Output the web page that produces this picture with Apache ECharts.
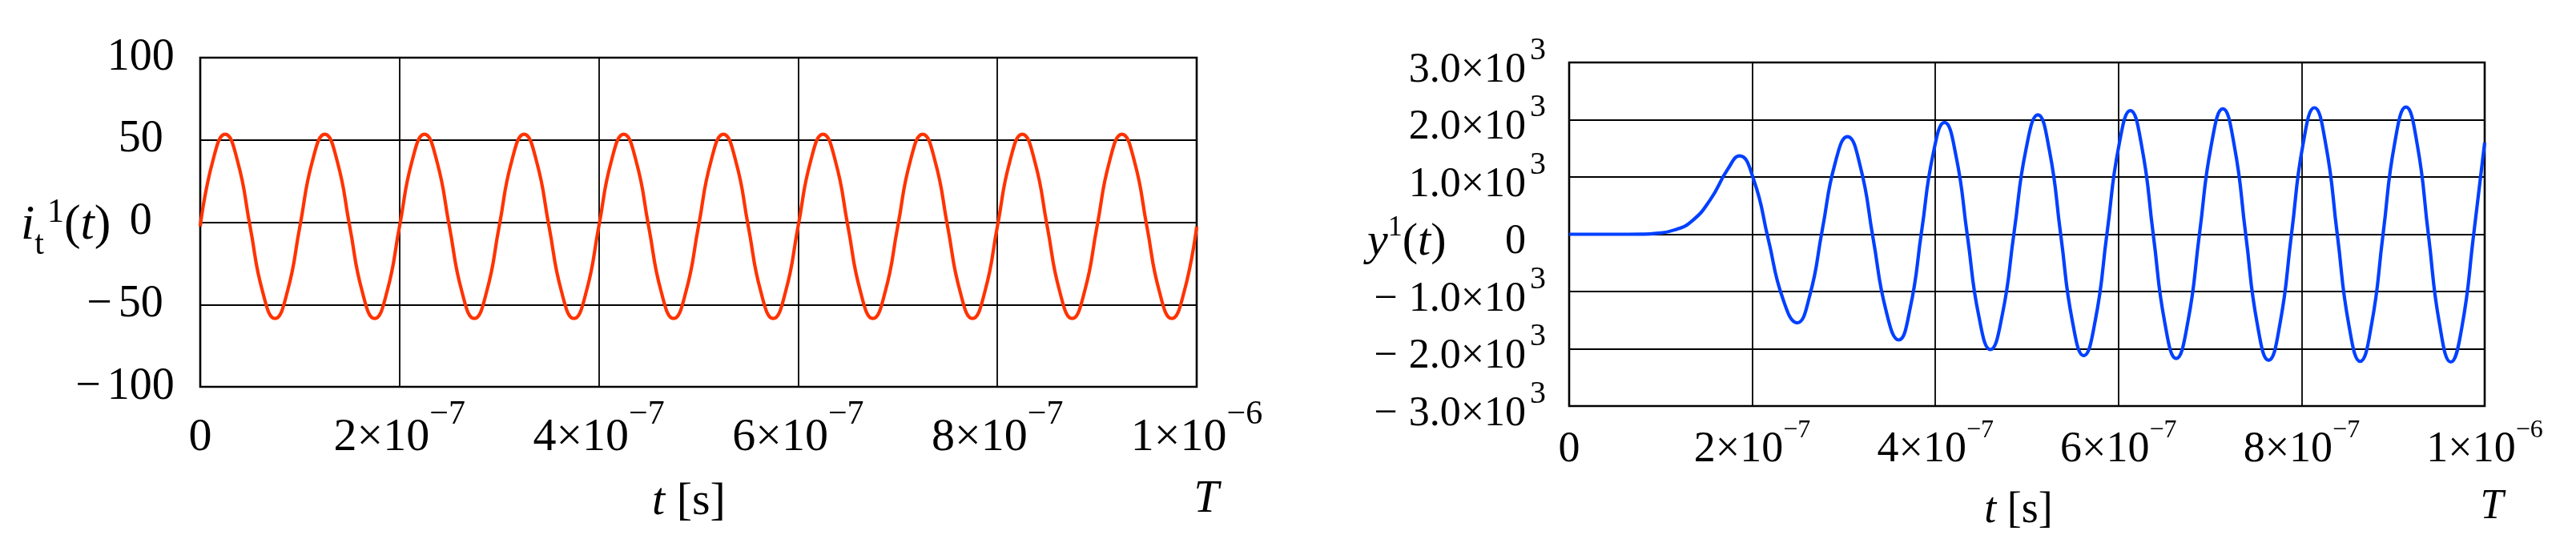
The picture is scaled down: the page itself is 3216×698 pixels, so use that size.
<!DOCTYPE html>
<html>
<head>
<meta charset="utf-8">
<script src="https://cdn.jsdelivr.net/npm/echarts/dist/echarts.min.js"></script>
<style>
html, body { margin: 0; padding: 0; background: #fff; }
#main { width: 3216px; height: 698px; }
</style>
</head>
<body>
<div id="main"></div>
<script>
// tick labels, time in units of 1e-6 s
var xTicks = [0, 0.2, 0.4, 0.6, 0.8, 1.0];
var xMant = ['0', '2×10', '4×10', '6×10', '8×10', '1×10'];
var xExp = ['', '−7', '−7', '−7', '−7', '−6'];

var leftYTicks = [-100, -50, 0, 50, 100];
var rightYTicks = [-3000, -2000, -1000, 0, 1000, 2000, 3000];

// i_t(t), read every 0.0125e-6 s
var leftStep = 0.0125;
var leftI = [
    -2.5, 37, 53.5, 37, -2.5, -42, -58.5, -42,
    -2.5, 37, 53.5, 37, -2.5, -42, -58.5, -42,
    -2.5, 37, 53.5, 37, -2.5, -42, -58.5, -42,
    -2.5, 37, 53.5, 37, -2.5, -42, -58.5, -42,
    -2.5, 37, 53.5, 37, -2.5, -42, -58.5, -42,
    -2.5, 37, 53.5, 37, -2.5, -42, -58.5, -42,
    -2.5, 37, 53.5, 37, -2.5, -42, -58.5, -42,
    -2.5, 37, 53.5, 37, -2.5, -42, -58.5, -42,
    -2.5, 37, 53.5, 37, -2.5, -42, -58.5, -42,
    -2.5, 37, 53.5, 37, -2.5, -42, -58.5, -42,
    -2.5
];

// y(t)
var rightT = [0, 0.05, 0.08, 0.095, 0.115, 0.134, 0.154, 0.173, 0.186,
    0.2018, 0.2175, 0.2333, 0.249,
    0.2628, 0.2765, 0.2903, 0.304,
    0.318, 0.332, 0.346, 0.360,
    0.3725, 0.385, 0.3975, 0.410,
    0.4225, 0.435, 0.4475, 0.460,
    0.473, 0.486, 0.499, 0.512,
    0.5245, 0.537, 0.5495, 0.562,
    0.5748, 0.5875, 0.6003, 0.613,
    0.6255, 0.638, 0.6505, 0.663,
    0.6758, 0.6885, 0.7013, 0.714,
    0.7265, 0.739, 0.7515, 0.764,
    0.7765, 0.789, 0.8015, 0.814,
    0.8265, 0.839, 0.8515, 0.864,
    0.8765, 0.889, 0.9015, 0.914,
    0.9263, 0.9385, 0.9508, 0.963,
    0.975, 0.988, 1.0];
var rightY = [0, 0, 2, 15, 75, 230, 600, 1130, 1368,
    941, -89, -1119, -1546,
    -1070, 80, 1229, 1705,
    1185, -71, -1326, -1846,
    -1289, 54, 1397, 1954,
    1373, -30, -1433, -2014,
    -1414, 36, 1485, 2085,
    1469, -18, -1504, -2120,
    -1493, 20, 1533, 2160,
    1526, -5, -1536, -2170,
    -1531, 10, 1551, 2190,
    1547, -5, -1557, -2200,
    -1554, 5, 1564, 2210,
    1561, -5, -1571, -2220,
    -1569, 1, 1571, 2222,
    1570, -5, -1579, -2231,
    -1631, 0, 1600];

var serif = '"Liberation Serif", "DejaVu Serif", serif';

var leftData = leftI.map(function (v, i) { return [i * leftStep, v]; });
var rightData = rightY.map(function (v, i) { return [rightT[i], v]; });

function xLabel(v) {
    var k = Math.round(v / 0.2);
    if (!xExp[k]) return '{m|' + xMant[k] + '}';
    return '{m|' + xMant[k] + '}{s|' + xExp[k] + '}';
}

function leftYLabel(v) {
    if (v < 0) return '{mi|−}{d|' + (-v) + '}';
    return '{h|−}{d|' + v + '}';
}

// right y labels: mantissa on one axis, the exponent 3 on a twin axis
function rightYMant(v) {
    if (v === 0) return '{z|0}';
    var txt = (Math.abs(v) / 1000).toFixed(1) + '×10';
    if (v < 0) return '{mi|−}{m|' + txt + '}';
    return '{m|' + txt + '}';
}
function rightYExp(v) {
    return v === 0 ? '' : '3';
}

var splitStyle = { show: true, lineStyle: { color: '#000', width: 1.8 } };

var option = {
    backgroundColor: '#fff',
    animation: false,
    grid: [
        { left: 250, top: 72, width: 1244, height: 411, show: true, borderColor: '#000', borderWidth: 2.6 },
        { left: 1959, top: 78, width: 1143, height: 429, show: true, borderColor: '#000', borderWidth: 2.6 }
    ],
    xAxis: [{
        gridIndex: 0, type: 'value', min: 0, max: 1, interval: 0.2,
        axisLine: { show: false }, axisTick: { show: false },
        splitLine: splitStyle,
        axisLabel: {
            margin: 14, color: '#000', formatter: xLabel, showMinLabel: true, showMaxLabel: true,
            rich: {
                m: { fontFamily: serif, fontSize: 58, lineHeight: 100, color: '#000' },
                s: { fontFamily: serif, fontSize: 42, lineHeight: 46, verticalAlign: 'top', color: '#000' }
            }
        }
    }, {
        gridIndex: 1, type: 'value', min: 0, max: 1, interval: 0.2,
        axisLine: { show: false }, axisTick: { show: false },
        splitLine: splitStyle,
        axisLabel: {
            margin: 15, color: '#000', formatter: xLabel, showMinLabel: true, showMaxLabel: true,
            rich: {
                m: { fontFamily: serif, fontSize: 54, lineHeight: 80, color: '#000' },
                s: { fontFamily: serif, fontSize: 32, lineHeight: 40, verticalAlign: 'top', color: '#000' }
            }
        }
    }],
    yAxis: [{
        gridIndex: 0, type: 'value', min: -100, max: 100, interval: 50,
        axisLine: { show: false }, axisTick: { show: false },
        splitLine: splitStyle,
        axisLabel: {
            margin: 94, align: 'center', color: '#000', formatter: leftYLabel,
            showMinLabel: true, showMaxLabel: true,
            rich: {
                mi: { fontFamily: serif, fontSize: 56, padding: [0, 8, 0, 0], color: '#000' },
                h: { fontFamily: serif, fontSize: 56, padding: [0, 8, 0, 0], color: 'rgba(0,0,0,0)' },
                d: { fontFamily: serif, fontSize: 56, color: '#000' }
            }
        }
    }, {
        gridIndex: 1, type: 'value', min: -3000, max: 3000, interval: 1000, position: 'left',
        axisLine: { show: false }, axisTick: { show: false },
        splitLine: splitStyle,
        axisLabel: {
            margin: 54, color: '#000', formatter: rightYMant, verticalAlign: 'top',
            showMinLabel: true, showMaxLabel: true,
            rich: {
                mi: { fontFamily: serif, fontSize: 52, lineHeight: 20, padding: [0, 14, 0, 0], color: '#000' },
                m: { fontFamily: serif, fontSize: 52, lineHeight: 20, color: '#000' },
                z: { fontFamily: serif, fontSize: 52, lineHeight: 20, padding: [0, 0, 0, 0], color: '#000' }
            }
        }
    }, {
        gridIndex: 1, type: 'value', min: -3000, max: 3000, interval: 1000, position: 'left',
        axisLine: { show: false }, axisTick: { show: false },
        splitLine: { show: false },
        axisLabel: {
            margin: 29, color: '#000', formatter: rightYExp, verticalAlign: 'bottom',
            fontFamily: serif, fontSize: 40, lineHeight: 30,
            showMinLabel: true, showMaxLabel: true
        }
    }],
    graphic: [
        {
            type: 'text', x: 26, y: 282,
            style: {
                text: '{i|i}{sub|t}{sup|1}{p|(}{i|t}{p|)}',
                align: 'left', verticalAlign: 'middle',
                rich: {
                    i: { fontFamily: serif, fontStyle: 'italic', fontSize: 62, lineHeight: 90, verticalAlign: 'middle', fill: '#000' },
                    p: { fontFamily: serif, fontSize: 62, lineHeight: 90, verticalAlign: 'middle', fill: '#000' },
                    sub: { fontFamily: serif, fontSize: 42, lineHeight: 42, verticalAlign: 'bottom', fill: '#000' },
                    sup: { fontFamily: serif, fontSize: 42, lineHeight: 42, padding: [8, 0, 0, 4], verticalAlign: 'top', fill: '#000' }
                }
            }
        },
        {
            type: 'text', x: 1707, y: 303,
            style: {
                text: '{i|y}{sup|1}{p|(}{i|t}{p|)}',
                align: 'left', verticalAlign: 'middle',
                rich: {
                    i: { fontFamily: serif, fontStyle: 'italic', fontSize: 58, lineHeight: 80, verticalAlign: 'middle', fill: '#000' },
                    p: { fontFamily: serif, fontSize: 58, lineHeight: 80, verticalAlign: 'middle', fill: '#000' },
                    sup: { fontFamily: serif, fontSize: 36, lineHeight: 40, padding: [4, 0, 0, 0], verticalAlign: 'top', fill: '#000' }
                }
            }
        },
        {
            type: 'text', x: 860, y: 627,
            style: {
                text: '{i|t}{p| [s]}', align: 'center', verticalAlign: 'middle',
                rich: {
                    i: { fontFamily: serif, fontStyle: 'italic', fontSize: 58, fill: '#000' },
                    p: { fontFamily: serif, fontSize: 58, fill: '#000' }
                }
            }
        },
        {
            type: 'text', x: 2520, y: 638,
            style: {
                text: '{i|t}{p| [s]}', align: 'center', verticalAlign: 'middle',
                rich: {
                    i: { fontFamily: serif, fontStyle: 'italic', fontSize: 54, fill: '#000' },
                    p: { fontFamily: serif, fontSize: 54, fill: '#000' }
                }
            }
        },
        {
            type: 'text', x: 1506, y: 624,
            style: { text: 'T', align: 'center', verticalAlign: 'middle', font: 'italic 56px ' + serif, fill: '#000' }
        },
        {
            type: 'text', x: 3111, y: 633,
            style: { text: 'T', align: 'center', verticalAlign: 'middle', font: 'italic 52px ' + serif, fill: '#000' }
        }
    ],
    series: [{
        name: 'i_t', type: 'line', xAxisIndex: 0, yAxisIndex: 0,
        data: leftData, smooth: true, showSymbol: false,
        lineStyle: { color: '#ff3300', width: 4.2 }
    }, {
        name: 'y', type: 'line', xAxisIndex: 1, yAxisIndex: 1,
        data: rightData, smooth: true, showSymbol: false,
        lineStyle: { color: '#0040ff', width: 4.2 }
    }]
};

var chart = echarts.init(document.getElementById('main'));
chart.setOption(option);
</script>
</body>
</html>
